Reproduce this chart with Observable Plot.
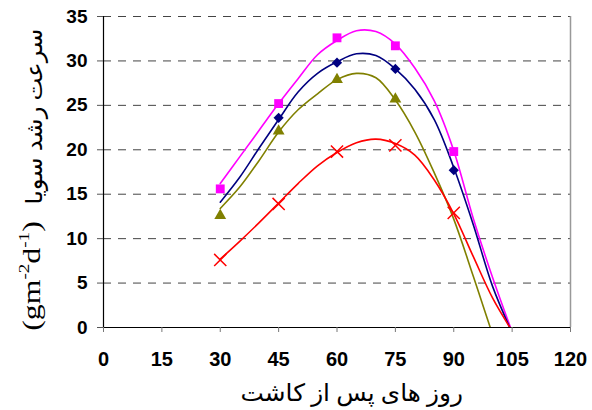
<!DOCTYPE html>
<html><head><meta charset="utf-8">
<script src="https://cdn.jsdelivr.net/npm/d3@7"></script>
<script src="https://cdn.jsdelivr.net/npm/@observablehq/plot@0.6"></script>
<style>
body{margin:0;background:#fff}
#wrap{position:relative;width:592px;height:410px;overflow:hidden}
.lbl{position:absolute;white-space:nowrap;color:#000;line-height:1}
.ar{font-family:"Liberation Serif","DejaVu Sans",serif;direction:rtl}
.en{font-family:"Liberation Serif",serif}
.en sup{font-size:0.6em;vertical-align:0.7em;line-height:0}
</style></head><body><div id="wrap"></div>
<script>
// Marker data (days after planting)
const days = [30, 45, 60, 75, 90];
const magentaVals = [15.6, 25.2, 32.6, 31.7, 19.8];
const navyVals    = [null, 23.6, 29.8, 29.1, 17.7];
const oliveVals   = [12.6, 22.1, 27.9, 25.7, null];
const redVals     = [7.6, 13.9, 19.8, 20.5, 12.9];

// Fitted curves
const curveDays   = [30, 35, 40, 45, 50, 55, 60, 65, 70, 75, 80, 85, 90, 95, 100, 105];
const magentaCurve = [16.2, 19.2, 22.2, 25.2, 28.0, 30.7, 32.3, 33.4, 33.3, 31.9, 29.2, 25.5, 19.9, 12.3, 5.6, -0.5];
const navyCurve    = [14.1, 16.9, 20.2, 23.4, 26.5, 28.6, 29.9, 30.8, 30.6, 29.1, 26.8, 23.4, 18.0, 11.6, 4.6, -0.6];
const oliveCurve   = [13.4, 15.8, 18.8, 22.0, 24.5, 26.3, 27.9, 28.6, 28.1, 25.6, 22.0, 17.4, 12.2, 5.8, -0.8, -7];
const redCurve     = [7.7, 9.7, 11.8, 14.0, 16.2, 18.2, 19.7, 20.8, 21.2, 20.7, 19.4, 16.6, 12.8, 8.0, 3.3, -0.4];

const xTicks = [0, 15, 30, 45, 60, 75, 90, 105, 120];
const yTicks = [0, 5, 10, 15, 20, 25, 30, 35];
const gridVals = [5, 10, 15, 20, 25, 30, 35];
const xTitle = "روز های پس از کاشت";
const yTitleAr = "سرعت رشد سویا";

const pts = vals => days.map((d, i) => ({x: d, y: vals[i]})).filter(p => p.y != null);
const crv = vals => curveDays.map((d, i) => ({x: d, y: vals[i]}));

const lineOpts = (c) => ({x: "x", y: "y", stroke: c, strokeWidth: 1.6, curve: "catmull-rom", clip: true});

const chart = Plot.plot({
  width: 592, height: 410,
  marginTop: 16, marginRight: 22, marginBottom: 83, marginLeft: 103,
  x: {domain: [0, 120]},
  y: {domain: [0, 35]},
  style: {fontFamily: "'Liberation Sans', Arial, sans-serif", background: "white", color: "black"},
  marks: [
    Plot.ruleY(gridVals, {stroke: "#444", strokeDasharray: "8,7", strokeWidth: 1}),
    Plot.ruleX([120], {stroke: "#999", strokeWidth: 1.5}),
    Plot.line(crv(magentaCurve), lineOpts("#ff00ff")),
    Plot.line(crv(navyCurve), lineOpts("#000080")),
    Plot.line(crv(oliveCurve), lineOpts("#808000")),
    Plot.line(crv(redCurve), lineOpts("#ff0000")),
    Plot.ruleY([0], {stroke: "black", strokeWidth: 1.2}),
    Plot.ruleX([0], {stroke: "black", strokeWidth: 1.2}),
    Plot.dot(pts(magentaVals), {x: "x", y: "y", symbol: "square", r: 5, fill: "#ff00ff"}),
    Plot.dot(pts(navyVals), {x: "x", y: "y", symbol: "diamond2", r: 4.6, fill: "#000080"}),
    Plot.dot(pts(oliveVals), {x: "x", y: "y", symbol: "triangle", r: 4.4, fill: "#808000"}),
    Plot.dot(pts(redVals), {x: "x", y: "y", symbol: "times", r: 5.6, stroke: "#ff0000", strokeWidth: 1.5}),
    Plot.axisX({ticks: xTicks, tickSize: 5, tickPadding: 19, fontSize: 20, fontWeight: "bold", label: null, stroke: "#777", fill: "black", tickFormat: d => String(d)}),
    Plot.axisY({ticks: yTicks, tickSize: 6, tickPadding: 10, fontSize: 19, fontWeight: "bold", label: null, stroke: "#555", fill: "black", tickFormat: d => String(d)})
  ]
});

const wrap = document.getElementById("wrap");
wrap.appendChild(chart);

// place a label centred at (cx, cy), stretched to a visual length, optionally rotated
function place(el, cx, cy, fontSize, length, rotate) {
  el.style.fontSize = fontSize + "px";
  el.style.left = "0px"; el.style.top = "0px";
  wrap.appendChild(el);
  const w = el.offsetWidth, h = el.offsetHeight;
  const s = length / w;
  el.style.left = (cx - w / 2) + "px";
  el.style.top = (cy - h / 2) + "px";
  el.style.transformOrigin = "50% 50%";
  el.style.transform = (rotate ? "rotate(-90deg) " : "") + `scale(${s},1)`;
}

const xt = document.createElement("div");
xt.className = "lbl ar";
xt.textContent = xTitle;
place(xt, 351, 393, 24, 222, false);

const ya = document.createElement("div");
ya.className = "lbl ar";
ya.textContent = yTitleAr;
place(ya, 34, 116, 23, 176, true);

const ye = document.createElement("div");
ye.className = "lbl en";
ye.innerHTML = "(gm<sup>-2</sup>d<sup>-1</sup>)";
place(ye, 32, 276, 26, 110, true);
</script>
</body></html>
